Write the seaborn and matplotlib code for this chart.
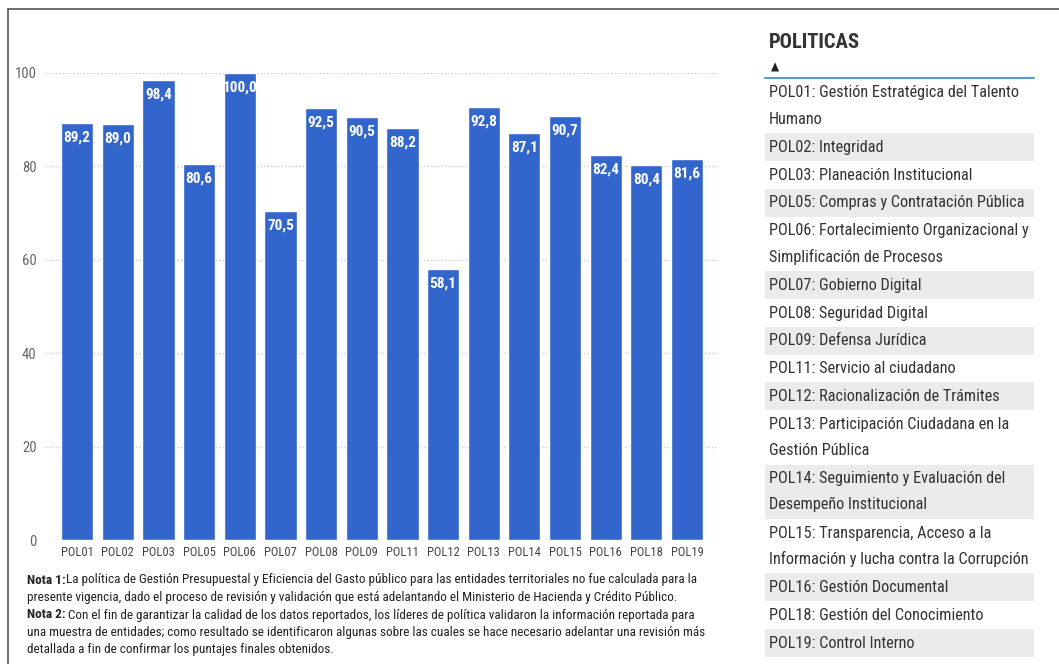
import matplotlib
matplotlib.use("Agg")
import matplotlib.pyplot as plt
import seaborn as sns
import pandas as pd
from matplotlib.patches import Rectangle
from matplotlib.lines import Line2D

# ---- data ----
categories = ["POL01", "POL02", "POL03", "POL05", "POL06", "POL07", "POL08", "POL09",
              "POL11", "POL12", "POL13", "POL14", "POL15", "POL16", "POL18", "POL19"]
scores = [89.2, 89.0, 98.4, 80.6, 100.0, 70.5, 92.5, 90.5,
          88.2, 58.1, 92.8, 87.1, 90.7, 82.4, 80.4, 81.6]
y_ticks = [0, 20, 40, 60, 80, 100]

legend_title = "POLITICAS"
legend_lines = [
    ["POL01: Gestión Estratégica del Talento", "Humano"],
    ["POL02: Integridad"],
    ["POL03: Planeación Institucional"],
    ["POL05: Compras y Contratación Pública"],
    ["POL06: Fortalecimiento Organizacional y", "Simplificación de Procesos"],
    ["POL07: Gobierno Digital"],
    ["POL08: Seguridad Digital"],
    ["POL09: Defensa Jurídica"],
    ["POL11: Servicio al ciudadano"],
    ["POL12: Racionalización de Trámites"],
    ["POL13: Participación Ciudadana en la", "Gestión Pública"],
    ["POL14: Seguimiento y Evaluación del", "Desempeño Institucional"],
    ["POL15: Transparencia, Acceso a la", "Información y lucha contra la Corrupción"],
    ["POL16: Gestión Documental"],
    ["POL18: Gestión del Conocimiento"],
    ["POL19: Control Interno"],
]

note1_bold = "Nota 1:"
note1_lines = [
    "La política de Gestión Presupuestal y Eficiencia del Gasto público para las entidades territoriales no fue calculada para la",
    "presente vigencia, dado el proceso de revisión y validación que está adelantando el Ministerio de Hacienda y Crédito Público.",
]
note2_bold = "Nota 2:"
note2_lines = [
    " Con el fin de garantizar la calidad de los datos reportados, los líderes de política validaron la información reportada para",
    "una muestra de entidades; como resultado se identificaron algunas sobre las cuales se hace necesario adelantar una revisión más",
    "detallada a fin de confirmar los puntajes finales obtenidos.",
]

# ---- style ----
sns.set_theme(style="white")
FONT = ["Roboto Condensed", "Liberation Sans Narrow", "Arial Narrow", "Roboto", "DejaVu Sans"]
plt.rcParams["font.family"] = FONT
plt.rcParams["font.stretch"] = "condensed"

W, H = 1059, 664
fig = plt.figure(figsize=(W / 100, H / 100), dpi=100)
fig.patch.set_facecolor("white")


def fx(px):
    return px / W


def fy(py):
    return 1 - py / H


BAR_COLOR = "#3366CC"

ax = fig.add_axes([fx(45), fy(540), fx(718) - fx(45), fy(73) - fy(540)])
df = pd.DataFrame({"pol": categories, "score": scores})
sns.barplot(data=df, x="pol", y="score", color=BAR_COLOR, saturation=1, width=0.79, ax=ax)

ax.set_xlim(-0.79, 15.76)
ax.set_ylim(0, 100)
ax.set_yticks(y_ticks)
ax.set_yticklabels([str(t) for t in y_ticks])
ax.grid(axis="y", linestyle=(0, (1, 1.5)), color="#cccccc", linewidth=1)
ax.set_axisbelow(True)
for s in ax.spines.values():
    s.set_visible(False)
ax.set_xlabel("")
ax.set_ylabel("")
ax.tick_params(axis="y", length=0, labelsize=10.5, labelcolor="#666666", pad=6)
ax.tick_params(axis="x", length=0, labelsize=9, labelcolor="#444444", pad=4)
ax.set_facecolor("white")

labels = [f"{v:.1f}".replace(".", ",") for v in scores]
ax.bar_label(ax.containers[0], labels=labels, padding=-15.5, color="white",
             fontsize=11, fontweight="bold")

# ---- frame ----
frame_color = "#555555"
fig.add_artist(Line2D([fx(8), fx(8)], [fy(9), fy(664)], color=frame_color, lw=1.2,
                      transform=fig.transFigure))
fig.add_artist(Line2D([fx(8), fx(1059)], [fy(9), fy(9)], color=frame_color, lw=1.2,
                      transform=fig.transFigure))

# ---- notes ----
note_fs = 9.5
note_color = "#222222"
ny = 580
t1 = fig.text(fx(27), fy(ny), note1_bold, fontsize=note_fs, fontweight="bold",
              color=note_color, va="center", ha="left")
fig.add_artist(plt.Annotation(note1_lines[0], xy=(1, 0.5), xycoords=t1, va="center", ha="left",
                              fontsize=note_fs, color=note_color))
fig.text(fx(27), fy(ny + 17.5), note1_lines[1], fontsize=note_fs, color=note_color,
         va="center", ha="left")
t2 = fig.text(fx(27), fy(ny + 35), note2_bold, fontsize=note_fs, fontweight="bold",
              color=note_color, va="center", ha="left")
fig.add_artist(plt.Annotation(note2_lines[0], xy=(1, 0.5), xycoords=t2, va="center", ha="left",
                              fontsize=note_fs, color=note_color))
fig.text(fx(27), fy(ny + 52.5), note2_lines[1], fontsize=note_fs, color=note_color,
         va="center", ha="left")
fig.text(fx(27), fy(ny + 70), note2_lines[2], fontsize=note_fs, color=note_color,
         va="center", ha="left")

# ---- legend table ----
leg_x0, leg_x1 = 765, 1034
fig.text(fx(769), fy(43), legend_title, fontsize=14.8, fontweight="bold", color="#333333",
         va="center", ha="left")
fig.text(fx(775), fy(67), "▲", fontsize=8.5, color="#222222", va="center", ha="center",
         family=["DejaVu Sans"])
fig.add_artist(Line2D([fx(leg_x0), fx(leg_x1)], [fy(77.5), fy(77.5)], color="#5b9bd5",
                      lw=1.5, transform=fig.transFigure))

row_top = 79
for i, lines in enumerate(legend_lines):
    h = 27.8 if len(lines) == 1 else 54.4
    if i % 2 == 1:
        fig.add_artist(Rectangle((fx(leg_x0), fy(row_top + h)), fx(leg_x1) - fx(leg_x0),
                                 h / H, transform=fig.transFigure, facecolor="#ebebeb",
                                 edgecolor="none"))
    for j, ln in enumerate(lines):
        fig.text(fx(769), fy(row_top + 14 + 26 * j), ln, fontsize=11.7, color="#333333",
                 va="center", ha="left")
    row_top += h

fig.savefig("out.png", dpi=100, facecolor="white")
